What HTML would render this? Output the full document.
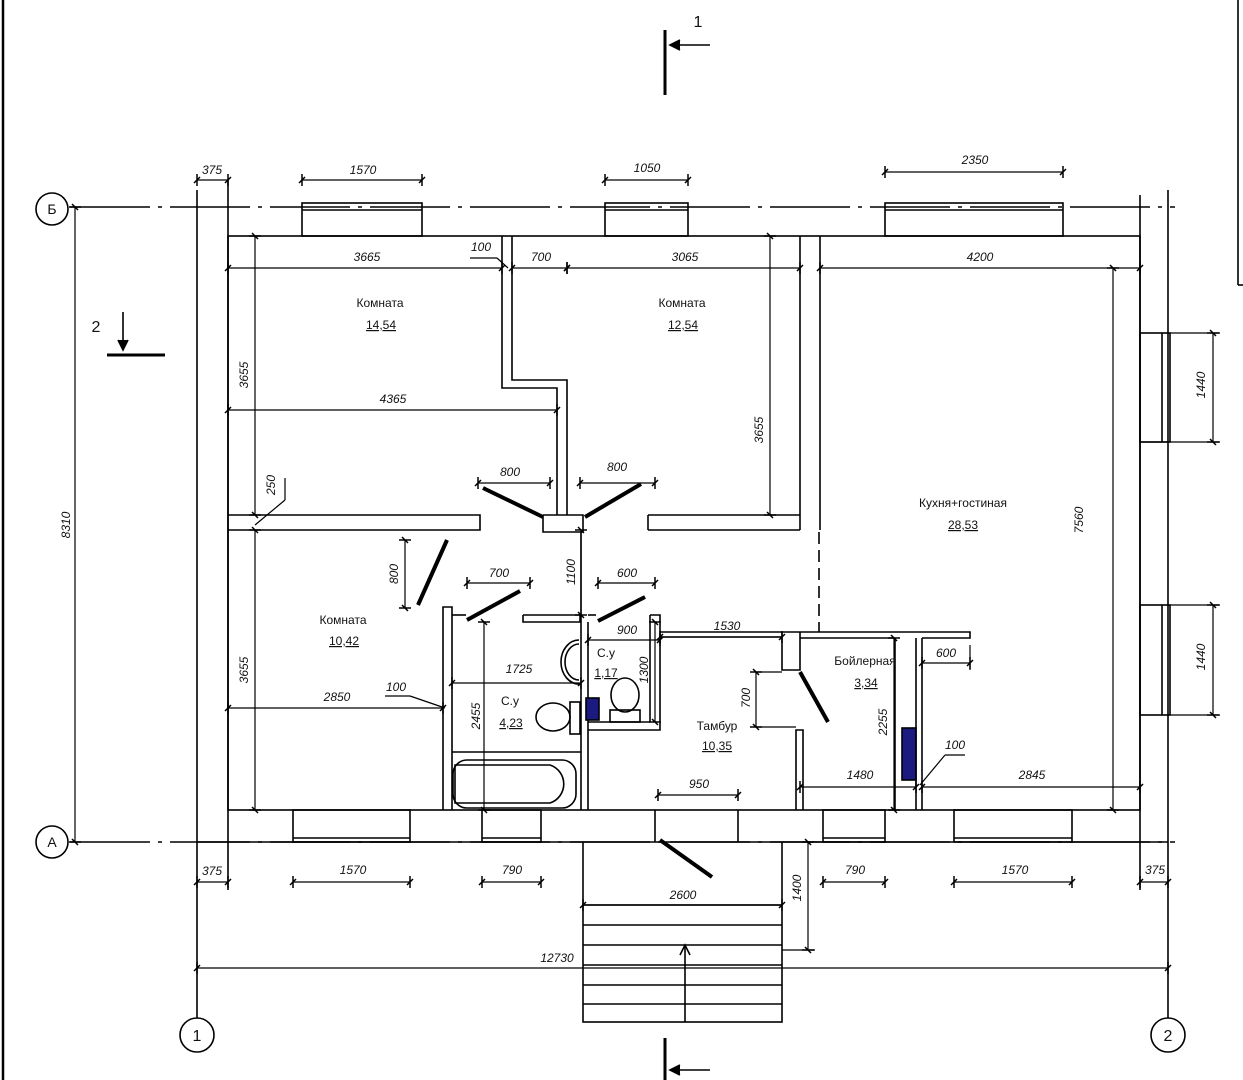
<!DOCTYPE html>
<html><head><meta charset="utf-8"><style>
html,body{margin:0;padding:0;background:#fff;}
svg{display:block}
text{font-family:"Liberation Sans",sans-serif;font-size:12px;font-style:italic;fill:#111}
.r{font-style:normal;font-size:12px}
</style></head><body>
<svg width="1243" height="1080" viewBox="0 0 1243 1080" xmlns="http://www.w3.org/2000/svg">
<defs>
<marker id="t" viewBox="-6 -6 12 12" markerWidth="12" markerHeight="12" refX="0" refY="0" orient="auto" markerUnits="userSpaceOnUse">
<path d="M0,-6 L0,6 M-3,3 L3,-3" stroke="#000" stroke-width="1.5" fill="none"/>
</marker>
</defs>
<g fill="none" stroke="#000" stroke-width="1.6">
<!-- frame -->
<line x1="3" y1="0" x2="3" y2="1080" stroke-width="2.5"/>
<line x1="1238" y1="0" x2="1238" y2="285"/>
<line x1="1238" y1="285" x2="1243" y2="285"/>
<!-- axes -->
<line x1="70" y1="207" x2="1175" y2="207" stroke-dasharray="80 8 4 8"/>
<line x1="70" y1="842" x2="1175" y2="842" stroke-dasharray="80 8 4 8"/>
<line x1="197" y1="190" x2="197" y2="1018"/>
<line x1="1168" y1="190" x2="1168" y2="1018"/>
<circle cx="52" cy="209" r="16"/><circle cx="52" cy="842" r="16"/>
<circle cx="197" cy="1035" r="17"/><circle cx="1168" cy="1035" r="17"/>
<!-- walls outer/inner -->
<line x1="228" y1="180" x2="228" y2="890"/>
<line x1="1140" y1="195" x2="1140" y2="890"/>
<rect x="228" y="236" width="912" height="574"/>
<line x1="197" y1="842" x2="1168" y2="842"/>
<!-- windows top -->
<rect x="302" y="203" width="120" height="33"/><line x1="302" y1="210" x2="422" y2="210"/>
<rect x="605" y="203" width="83" height="33"/><line x1="605" y1="210" x2="688" y2="210"/>
<rect x="885" y="203" width="178" height="33"/><line x1="885" y1="210" x2="1063" y2="210"/>
<!-- windows right -->
<rect x="1140" y="333" width="30" height="109"/><line x1="1162" y1="333" x2="1162" y2="442"/>
<rect x="1140" y="605" width="30" height="110"/><line x1="1162" y1="605" x2="1162" y2="715"/>
<!-- windows bottom -->
<rect x="293" y="810" width="117" height="32"/><line x1="293" y1="838" x2="410" y2="838"/>
<rect x="482" y="810" width="59" height="32"/><line x1="482" y1="838" x2="541" y2="838"/>
<rect x="823" y="810" width="62" height="32"/><line x1="823" y1="838" x2="885" y2="838"/>
<rect x="954" y="810" width="118" height="32"/><line x1="954" y1="838" x2="1072" y2="838"/>
<line x1="655" y1="810" x2="655" y2="842"/><line x1="738" y1="810" x2="738" y2="842"/>
<!-- interior walls -->
<polyline points="502,236 502,388 557,388 557,515"/>
<polyline points="512,236 512,380 567,380 567,515"/>
<polyline points="228,515 480,515 480,530 228,530"/>
<polyline points="543,515 583,515 583,532 543,532 543,515"/>
<polyline points="648,515 800,515"/><polyline points="648,530 800,530"/><line x1="648" y1="515" x2="648" y2="530"/>
<line x1="800" y1="236" x2="800" y2="530"/><line x1="820" y1="236" x2="820" y2="530"/>
<line x1="819" y1="532" x2="819" y2="632" stroke-dasharray="12 6"/>
<polyline points="443,810 443,607 452,607 452,810"/>
<polyline points="452,615 466,615"/>
<polyline points="523,615 580,615 580,622 523,622 523,615"/>
<line x1="581" y1="532" x2="581" y2="810"/>
<line x1="588" y1="622" x2="588" y2="810"/>
<polyline points="588,615 596,615"/>
<polyline points="650,615 660,615 660,730 588,730"/><line x1="588" y1="722" x2="650" y2="722"/><line x1="650" y1="615" x2="650" y2="722"/>
<line x1="452" y1="752" x2="581" y2="752"/>
<polyline points="660,632 970,632 970,638 922,638"/>
<line x1="660" y1="637" x2="782" y2="637"/>
<polyline points="782,632 782,670 800,670 800,632"/>
<line x1="800" y1="638" x2="895" y2="638"/>
<polyline points="796,810 796,730 803,730 803,810"/>
<line x1="895" y1="638" x2="895" y2="810"/><line x1="916" y1="638" x2="916" y2="810"/><line x1="922" y1="638" x2="922" y2="810"/>
<!-- fixtures -->
<rect x="453" y="760" width="123" height="48" rx="14"/>
<path d="M455,765 h95 a20,20 0 0 1 0,38 h-95 z"/>
<path d="M579,640 a18,22 0 0 0 0,44"/><path d="M579,644 a14,18 0 0 0 0,36"/>
<ellipse cx="553" cy="717" rx="17" ry="14"/><rect x="570" y="702" width="10" height="32"/>
<ellipse cx="625" cy="695" rx="14" ry="17"/><rect x="610" y="710" width="30" height="12"/>
<rect x="586" y="698" width="13" height="22" fill="#1a1a80"/>
<rect x="902" y="728" width="14" height="52" fill="#1a1a80"/>
<!-- doors -->
<g stroke-width="4"><line x1="483" y1="488" x2="543" y2="517"/><line x1="641" y1="484" x2="585" y2="517"/>
<line x1="447" y1="540" x2="418" y2="605"/><line x1="520" y1="591" x2="467" y2="620"/>
<line x1="645" y1="597" x2="598" y2="621"/><line x1="800" y1="672" x2="828" y2="722"/>
<line x1="660" y1="840" x2="712" y2="877"/></g>
<!-- stairs -->
<rect x="583" y="905" width="199" height="117"/>
<line x1="583" y1="925" x2="782" y2="925"/><line x1="583" y1="945" x2="782" y2="945"/><line x1="583" y1="965" x2="782" y2="965"/><line x1="583" y1="985" x2="782" y2="985"/><line x1="583" y1="1004" x2="782" y2="1004"/>
<line x1="685" y1="945" x2="685" y2="1022"/><path d="M680,955 L685,945 L690,955"/>
<line x1="583" y1="842" x2="583" y2="905"/><line x1="782" y1="842" x2="782" y2="905"/>
<!-- section marks -->
<line x1="665" y1="30" x2="665" y2="95" stroke-width="3"/><line x1="670" y1="45" x2="710" y2="45"/><path d="M680,40 L670,45 L680,50" fill="#000"/>
<line x1="665" y1="1038" x2="665" y2="1080" stroke-width="3"/><line x1="670" y1="1070" x2="710" y2="1070"/><path d="M680,1065 L670,1070 L680,1075" fill="#000"/>
<line x1="107" y1="355" x2="165" y2="355" stroke-width="3"/><line x1="123" y1="312" x2="123" y2="350"/><path d="M118,340 L123,350 L128,340" fill="#000"/>
</g>
<!-- dimension lines -->
<g stroke="#000" stroke-width="1.2" fill="none" marker-start="url(#t)" marker-end="url(#t)">
<line x1="197" y1="180" x2="228" y2="180"/><line x1="302" y1="180" x2="422" y2="180"/><line x1="605" y1="180" x2="688" y2="180"/><line x1="885" y1="172" x2="1063" y2="172"/>
<line x1="228" y1="268" x2="502" y2="268"/><line x1="512" y1="268" x2="567" y2="268"/><line x1="567" y1="268" x2="800" y2="268"/><line x1="820" y1="268" x2="1140" y2="268"/>
<line x1="255" y1="236" x2="255" y2="515"/><line x1="255" y1="530" x2="255" y2="810"/>
<line x1="228" y1="410" x2="557" y2="410"/>
<line x1="770" y1="236" x2="770" y2="515"/>
<line x1="1113" y1="268" x2="1113" y2="810"/>
<line x1="75" y1="207" x2="75" y2="842"/>
<line x1="228" y1="708" x2="443" y2="708"/>
<line x1="405" y1="540" x2="405" y2="608"/>
<line x1="478" y1="483" x2="550" y2="483"/><line x1="580" y1="483" x2="655" y2="483"/>
<line x1="467" y1="583" x2="530" y2="583"/><line x1="598" y1="583" x2="655" y2="583"/>
<line x1="581" y1="530" x2="581" y2="615"/>
<line x1="452" y1="683" x2="581" y2="683"/>
<line x1="484" y1="622" x2="484" y2="810"/>
<line x1="588" y1="640" x2="660" y2="640"/>
<line x1="655" y1="622" x2="655" y2="722"/>
<line x1="660" y1="637" x2="782" y2="637"/>
<line x1="756" y1="672" x2="756" y2="727"/>
<line x1="658" y1="795" x2="738" y2="795"/>
<line x1="800" y1="787" x2="916" y2="787"/><line x1="922" y1="787" x2="1140" y2="787"/>
<line x1="894" y1="638" x2="894" y2="810"/>
<line x1="922" y1="663" x2="970" y2="663"/>
<line x1="1213" y1="333" x2="1213" y2="442"/><line x1="1213" y1="605" x2="1213" y2="715"/>
<line x1="197" y1="882" x2="228" y2="882"/><line x1="293" y1="882" x2="410" y2="882"/><line x1="482" y1="882" x2="541" y2="882"/><line x1="823" y1="882" x2="885" y2="882"/><line x1="954" y1="882" x2="1072" y2="882"/><line x1="1140" y1="882" x2="1168" y2="882"/>
<line x1="583" y1="905" x2="782" y2="905"/>
<line x1="808" y1="842" x2="808" y2="950"/>
<line x1="197" y1="968" x2="1168" y2="968"/>
</g>
<g stroke="#000" stroke-width="1.2" fill="none">
<line x1="470" y1="258" x2="497" y2="258"/><line x1="497" y1="258" x2="508" y2="268"/>
<line x1="285" y1="478" x2="285" y2="500"/><line x1="285" y1="500" x2="255" y2="525"/>
<line x1="385" y1="696" x2="410" y2="696"/><line x1="410" y1="696" x2="445" y2="708"/>
<line x1="965" y1="755" x2="945" y2="755"/><line x1="945" y1="755" x2="920" y2="785"/>
<line x1="1140" y1="442" x2="1220" y2="442"/><line x1="1170" y1="333" x2="1220" y2="333"/>
<line x1="1170" y1="605" x2="1220" y2="605"/><line x1="1170" y1="715" x2="1220" y2="715"/>
<line x1="782" y1="950" x2="815" y2="950"/>
<line x1="970" y1="645" x2="970" y2="670"/>
<line x1="755" y1="672" x2="782" y2="672"/><line x1="755" y1="727" x2="796" y2="727"/>
</g>
<!-- texts -->
<text x="212" y="174" text-anchor="middle">375</text>
<text x="363" y="174" text-anchor="middle">1570</text>
<text x="647" y="172" text-anchor="middle">1050</text>
<text x="975" y="164" text-anchor="middle">2350</text>
<text x="367" y="261" text-anchor="middle">3665</text>
<text x="481" y="251" text-anchor="middle">100</text>
<text x="541" y="261" text-anchor="middle">700</text>
<text x="685" y="261" text-anchor="middle">3065</text>
<text x="980" y="261" text-anchor="middle">4200</text>
<text x="393" y="403" text-anchor="middle">4365</text>
<text x="510" y="476" text-anchor="middle">800</text>
<text x="617" y="471" text-anchor="middle">800</text>
<text x="499" y="577" text-anchor="middle">700</text>
<text x="627" y="577" text-anchor="middle">600</text>
<text x="627" y="634" text-anchor="middle">900</text>
<text x="727" y="630" text-anchor="middle">1530</text>
<text x="519" y="673" text-anchor="middle">1725</text>
<text x="337" y="701" text-anchor="middle">2850</text>
<text x="396" y="691" text-anchor="middle">100</text>
<text x="699" y="788" text-anchor="middle">950</text>
<text x="860" y="779" text-anchor="middle">1480</text>
<text x="1032" y="779" text-anchor="middle">2845</text>
<text x="946" y="657" text-anchor="middle">600</text>
<text x="955" y="749" text-anchor="middle">100</text>
<text x="212" y="875" text-anchor="middle">375</text>
<text x="353" y="874" text-anchor="middle">1570</text>
<text x="512" y="874" text-anchor="middle">790</text>
<text x="855" y="874" text-anchor="middle">790</text>
<text x="1015" y="874" text-anchor="middle">1570</text>
<text x="1155" y="874" text-anchor="middle">375</text>
<text x="683" y="899" text-anchor="middle">2600</text>
<text x="557" y="962" text-anchor="middle">12730</text>
<text transform="translate(248,375) rotate(-90)" text-anchor="middle">3655</text>
<text transform="translate(248,670) rotate(-90)" text-anchor="middle">3655</text>
<text transform="translate(275,485) rotate(-90)" text-anchor="middle">250</text>
<text transform="translate(763,430) rotate(-90)" text-anchor="middle">3655</text>
<text transform="translate(1083,520) rotate(-90)" text-anchor="middle">7560</text>
<text transform="translate(70,525) rotate(-90)" text-anchor="middle">8310</text>
<text transform="translate(398,574) rotate(-90)" text-anchor="middle">800</text>
<text transform="translate(575,572) rotate(-90)" text-anchor="middle">1100</text>
<text transform="translate(480,716) rotate(-90)" text-anchor="middle">2455</text>
<text transform="translate(648,670) rotate(-90)" text-anchor="middle">1300</text>
<text transform="translate(750,698) rotate(-90)" text-anchor="middle">700</text>
<text transform="translate(887,722) rotate(-90)" text-anchor="middle">2255</text>
<text transform="translate(1205,385) rotate(-90)" text-anchor="middle">1440</text>
<text transform="translate(1205,657) rotate(-90)" text-anchor="middle">1440</text>
<text transform="translate(801,888) rotate(-90)" text-anchor="middle">1400</text>
<text class="r" x="380" y="307" text-anchor="middle">Комната</text>
<text class="r" x="381" y="329" text-anchor="middle" text-decoration="underline">14,54</text>
<text class="r" x="682" y="307" text-anchor="middle">Комната</text>
<text class="r" x="683" y="329" text-anchor="middle" text-decoration="underline">12,54</text>
<text class="r" x="963" y="507" text-anchor="middle">Кухня+гостиная</text>
<text class="r" x="963" y="529" text-anchor="middle" text-decoration="underline">28,53</text>
<text class="r" x="343" y="624" text-anchor="middle">Комната</text>
<text class="r" x="344" y="645" text-anchor="middle" text-decoration="underline">10,42</text>
<text class="r" x="606" y="657" text-anchor="middle">С.у</text>
<text class="r" x="606" y="677" text-anchor="middle" text-decoration="underline">1,17</text>
<text class="r" x="510" y="705" text-anchor="middle">С.у</text>
<text class="r" x="511" y="727" text-anchor="middle" text-decoration="underline">4,23</text>
<text class="r" x="717" y="730" text-anchor="middle">Тамбур</text>
<text class="r" x="717" y="750" text-anchor="middle" text-decoration="underline">10,35</text>
<text class="r" x="865" y="665" text-anchor="middle">Бойлерная</text>
<text class="r" x="866" y="687" text-anchor="middle" text-decoration="underline">3,34</text>
<text class="r" x="52" y="214" text-anchor="middle" style="font-size:14px">Б</text>
<text class="r" x="52" y="847" text-anchor="middle" style="font-size:14px">А</text>
<text class="r" x="197" y="1041" text-anchor="middle" style="font-size:16px">1</text>
<text class="r" x="1168" y="1041" text-anchor="middle" style="font-size:16px">2</text>
<text class="r" x="698" y="27" text-anchor="middle" style="font-size:16px">1</text>
<text class="r" x="96" y="332" text-anchor="middle" style="font-size:16px">2</text>
</svg>
</body></html>
